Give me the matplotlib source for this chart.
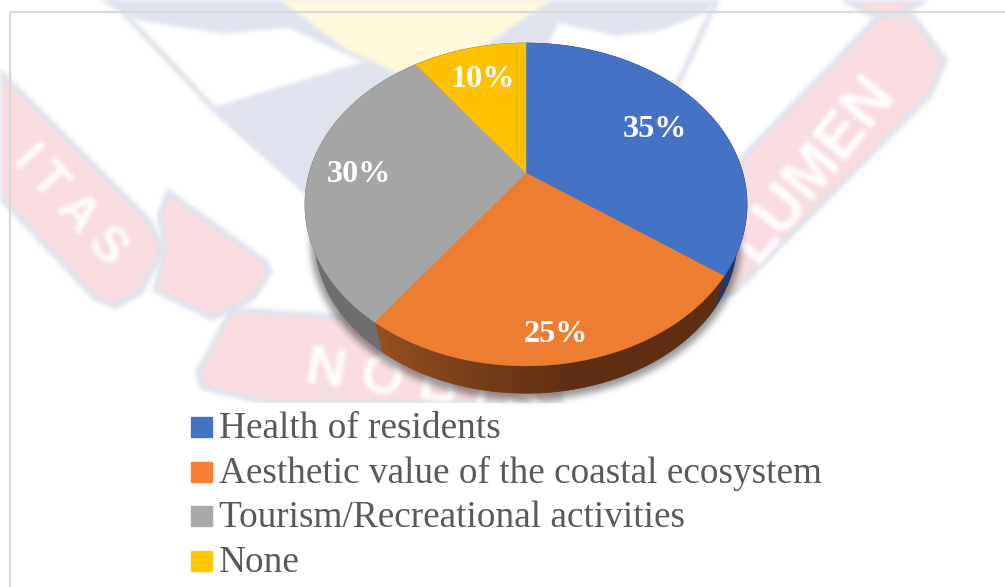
import numpy as np
import matplotlib
matplotlib.use("Agg")
import matplotlib.pyplot as plt

# Survey shares, clockwise from twelve o'clock
categories = [
    "Health of residents",
    "Aesthetic value of the coastal ecosystem",
    "Tourism/Recreational activities",
    "None",
]
shares = [35, 25, 30, 10]

top_colors = ["#4472c4", "#ed7d31", "#a5a5a5", "#ffc000"]
swatch_colors = ["#4472c4", "#f98035", "#a9a9a9", "#ffc800"]
side_colors = ["#1f3864", "#96501f", "#6e6e6e", "#7f6000"]
label_radii = [0.70, 0.86, 0.775, 0.75]
label_nudge = [(2, 3), (-5, 3), (1, 2), (1, 4)]

# Tilted disc: apex, radii and perspective of the pie
cx, cy = 526, 173
rx, ry = 216.8, 155.3
persp = 0.195
# Lower rim is a slightly smaller copy, further down
rim_cy, rim_scale = 209, 0.955

PINK = "#f9dcdf"
SLATE = "#dfe3ee"
PALE_YELLOW = "#fffbdc"


def project(deg, r=1.0, y0=cy, scale=1.0):
    a = np.radians(deg)
    u, v = r * np.sin(a), r * np.cos(a)
    w = 1 + persp * v
    return cx + scale * rx * u / w, y0 - scale * ry * v / w


def soften(img, dpi, passes=2, size=2):
    # small box blur for set_agg_filter, done on premultiplied colour
    pad = size * passes + 2
    out = np.pad(img, ((pad, pad), (pad, pad), (0, 0))).astype(float)
    out[..., :3] *= out[..., 3:]
    for _ in range(passes):
        for axis in (0, 1):
            out = sum(np.roll(out, s, axis=axis) for s in range(-size, size + 1)) / (2 * size + 1)
    alpha = np.maximum(out[..., 3:], 1e-4)
    out[..., :3] = np.clip(out[..., :3] / alpha, 0, 1)
    return out, -pad, -pad


fig = plt.figure(figsize=(10.05, 5.87), dpi=100, facecolor="white")
ax = fig.add_axes([0, 0, 1, 1])
ax.set_xlim(0, 1005)
ax.set_ylim(587, 0)
ax.axis("off")

# Faded crest behind the chart
ribbons = [
    [(0, 72), (150, 222), (163, 250), (140, 293), (115, 306), (95, 298), (0, 197)],
    [(168, 192), (265, 262), (270, 272), (255, 295), (245, 303), (212, 318), (155, 290), (165, 250), (160, 215)],
    [(232, 310), (345, 317), (560, 340), (560, 403), (267, 403), (202, 387), (198, 372)],
    [(743, 157), (880, 15), (900, 5), (913, 17), (945, 60), (930, 95), (733, 293), (700, 300)],
    [(845, 0), (925, 0), (900, 14), (870, 14)],
]
crest = []
for pts in ribbons:
    crest += ax.fill(*zip(*pts), facecolor=PINK, edgecolor=SLATE, lw=4, joinstyle="round", zorder=1)

slate_shapes = [
    [(100, 0), (717, 0), (705, 12), (660, 30), (615, 35), (558, 22), (540, 60), (420, 64),
     (365, 62), (288, 27), (224, 33), (140, 20)],
    [(213, 108), (365, 62), (420, 64), (450, 190), (310, 195)],
]
for pts in slate_shapes:
    crest += ax.fill(*zip(*pts), color=SLATE, zorder=1)
crest += ax.plot([112, 213, 310], [0, 108, 195], color=SLATE, lw=4, zorder=1)
crest += ax.plot([717, 654], [0, 135], color=SLATE, lw=4, zorder=1)
crest += ax.fill([282, 550, 480, 410, 345], [0, 0, 48, 78, 48], color=PALE_YELLOW, zorder=2)

wm_font = dict(family="Liberation Sans", weight="bold", color="white", zorder=2)
crest.append(ax.text(70, 206, "I\u2009T\u2009A\u2009S", fontsize=36, rotation=-48, ha="center", va="center",
                     rotation_mode="anchor", **wm_font))
crest.append(ax.text(814, 168, "LUMEN", fontsize=45, rotation=51, ha="center", va="center",
                     rotation_mode="anchor", **wm_font))
crest.append(ax.text(304, 383, "N O B I S", fontsize=40, rotation=-8, ha="left", va="baseline",
                     rotation_mode="anchor", **wm_font))
for art in crest:
    art.set_agg_filter(soften)

# Everything under the chart area is cut off flat
ax.fill([0, 1005, 1005, 0], [403, 403, 587, 587], color="white", zorder=3)

# Frame
ax.plot([10, 10, 1005], [587, 12, 12], color="#d9d9d9", lw=1.6, zorder=4)

theta = np.linspace(0, 360, 361)
shadow_x, shadow_y = project(theta, y0=rim_cy + 3, scale=rim_scale + 0.015)
shadow = ax.fill(shadow_x, shadow_y, color="black", alpha=0.4, zorder=4)[0]
shadow.set_agg_filter(lambda img, dpi: soften(img, dpi, passes=3, size=3))

# Wedges, with the rim drawn first so the top face covers its hidden part
edges = np.cumsum([0] + shares) * 3.6
for i, share in enumerate(shares):
    arc = np.linspace(edges[i], edges[i + 1], 90)
    if categories[i].startswith("Aesthetic"):
        # the orange rim darkens going right to left around the bottom
        dark = np.array(matplotlib.colors.to_rgb("#5f2e12"))
        light = np.array(matplotlib.colors.to_rgb(side_colors[i]))
        for a0, a1 in zip(arc[:-1], arc[1:]):
            t = np.clip((a0 - 170) / (edges[i + 1] - 170), 0, 1)
            xu, yu = project(np.array([a0, a1]))
            xl, yl = project(np.array([a1, a0]), y0=rim_cy, scale=rim_scale)
            ax.fill(np.r_[xu, xl], np.r_[yu, yl], color=dark + (light - dark) * t, lw=0.5, zorder=5)
    else:
        xu, yu = project(arc)
        xl, yl = project(arc[::-1], y0=rim_cy, scale=rim_scale)
        ax.fill(np.r_[xu, xl], np.r_[yu, yl], color=side_colors[i], lw=0.5, zorder=5)

for i, share in enumerate(shares):
    arc = np.linspace(edges[i], edges[i + 1], 120)
    x, y = project(arc)
    ax.fill(np.r_[cx, x], np.r_[cy, y], color=top_colors[i], lw=0.3, zorder=6)
    lx, ly = project((edges[i] + edges[i + 1]) / 2, r=label_radii[i])
    ax.text(lx + label_nudge[i][0], ly + label_nudge[i][1], f"{share}%", color="white",
            family="Liberation Serif", weight="bold", fontsize=23.2, ha="center", va="center", zorder=7)

# Legend stacked under the pie
for i, name in enumerate(categories):
    base = 438 + i * 44.6
    ax.fill([191, 212, 212, 191], [base - 21, base - 21, base - 1, base - 1],
            color=swatch_colors[i], zorder=7)
    ax.text(219, base, name, color="#595959", family="Liberation Serif", fontsize=26.8,
            ha="left", va="baseline", zorder=7)

fig.savefig("out.png", dpi=100)
